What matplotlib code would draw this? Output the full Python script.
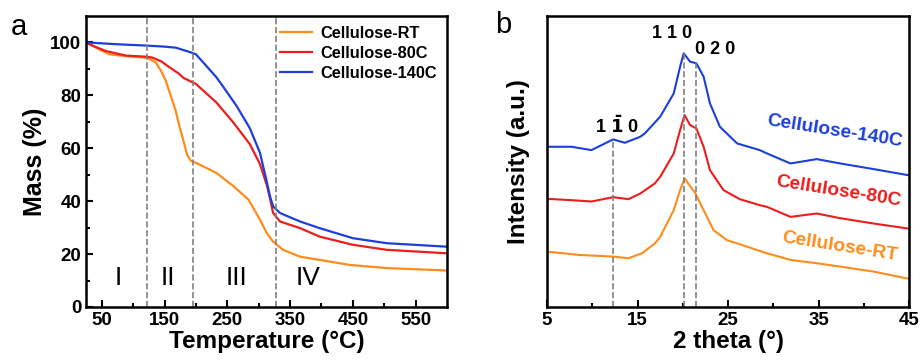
import matplotlib
matplotlib.use("Agg")
import matplotlib.pyplot as plt

# TGA data (temperature in C, mass in %)
t_rt = [25, 41, 62, 89, 120, 127, 136, 145, 152, 159, 168, 174, 180, 186, 192, 201, 233, 260, 284, 302, 313, 323, 339, 366, 397, 445, 504, 599]
m_rt = [100, 98, 95.5, 94.8, 94.2, 93.6, 92.5, 89, 85.5, 80.5, 74, 68, 63, 57.5, 55.2, 54.4, 50.6, 45.6, 40.5, 33, 27.9, 24.7, 21.6, 19, 17.8, 15.9, 14.7, 13.8]
t_80 = [25, 40, 57, 89, 120, 130, 145, 159, 174, 180, 200, 233, 260, 286, 302, 313, 318, 323, 334, 366, 397, 450, 504, 599]
m_80 = [100, 98.3, 96.7, 95, 94.6, 94.3, 92.8, 90.4, 88, 86.6, 84.3, 77.2, 69.6, 61.5, 54, 46, 41, 35.5, 32.3, 29.8, 26.6, 23.5, 21.6, 20.3]
t_140 = [25, 74, 120, 150, 168, 191, 200, 217, 232, 243, 265, 286, 302, 313, 318, 323, 334, 366, 397, 450, 504, 599]
m_140 = [100, 99.3, 98.8, 98.4, 98, 96.3, 95.5, 91, 87, 83.4, 75.9, 67.5, 58.3, 47.2, 41.8, 38, 35.5, 32.3, 29.8, 26, 24.1, 22.8]
stage_lines = [122, 195, 328]
stage_names = ["I", "II", "III", "IV"]
stage_pos = [77, 155, 264, 378]

# XRD data (2 theta, intensity in arbitrary units, offset already included)
x_140 = [5, 7.7, 9.9, 11.4, 12.3, 13.6, 15.3, 15.8, 17.5, 19.0, 19.7, 20.1, 20.8, 21.5, 22.3, 23.0, 24.1, 26.0, 28.5, 29.3, 31.9, 34.8, 37.4, 41.1, 44.9]
i_140 = [48, 48, 47, 49, 50.2, 49.2, 51, 52, 57, 64, 72, 76, 73.5, 73, 69, 61, 54, 49, 47, 46, 43, 44.3, 43, 41.3, 39.5]
x_80 = [5, 7.7, 9.9, 12.3, 14, 15.3, 16.9, 17.5, 19.0, 19.7, 20.2, 20.8, 21.5, 22.3, 23.0, 24.5, 26.3, 28.5, 29.3, 31.9, 34.8, 37.4, 41.1, 44.9]
i_80 = [32.4, 32, 31.6, 32.9, 32.3, 34, 37, 39, 46, 53, 57.5, 54.5, 53.5, 48, 41, 35, 32.3, 30.5, 30, 27, 28, 26.6, 25, 23.5]
x_rt = [5, 8.5, 12.3, 14, 15.5, 16.9, 17.5, 19.0, 19.7, 20.2, 21.4, 22.3, 23.4, 24.9, 26.3, 28.5, 29.3, 31.9, 34.8, 37.4, 41.1, 44.9]
i_rt = [16.6, 15.6, 15.1, 14.6, 16.1, 19, 21, 29, 35, 38.5, 34, 29, 23, 20, 18.8, 16.8, 16.1, 14.1, 13.1, 12.1, 10.6, 8.5]
peak_pos = [12.3, 20.1, 21.5]
peak_top = [50.2, 76, 73]

c_rt = "#ff8c1a"
c_80 = "#ee1c1c"
c_140 = "#1c3fd9"

plt.rcParams["font.family"] = "Liberation Sans"
fig = plt.figure(figsize=(9.21, 3.62), dpi=100)
ax1 = fig.add_axes([0.0934, 0.152, 0.392, 0.804])
ax2 = fig.add_axes([0.594, 0.152, 0.393, 0.804])

# panel a
ax1.plot(t_rt, m_rt, color=c_rt, lw=1.6, label="Cellulose-RT")
ax1.plot(t_80, m_80, color=c_80, lw=1.6, label="Cellulose-80C")
ax1.plot(t_140, m_140, color=c_140, lw=1.6, label="Cellulose-140C")
for x in stage_lines:
    ax1.axvline(x, color="gray", ls="--", lw=1.2)
for name, x in zip(stage_names, stage_pos):
    ax1.text(x, 11, name, ha="center", va="center", fontsize=19)
ax1.set_xlim(25, 600)
ax1.set_ylim(0, 110)
ax1.set_xticks([50, 150, 250, 350, 450, 550])
ax1.set_xticks([100, 200, 300, 400, 500], minor=True)
ax1.set_yticks([0, 20, 40, 60, 80, 100])
ax1.set_yticks([10, 30, 50, 70, 90], minor=True)
ax1.set_xlabel("Temperature (\u00b0C)", fontsize=17.5, fontweight="bold", labelpad=1)
ax1.set_ylabel("Mass (%)", fontsize=18, fontweight="bold", labelpad=2)
leg = ax1.legend(loc="upper right", frameon=False, fontsize=11.8, handlelength=2.0,
                 borderaxespad=0.2, labelspacing=0.3, handletextpad=0.5)
for t in leg.get_texts():
    t.set_fontweight("bold")

# panel b
ax2.plot(x_140, i_140, color=c_140, lw=1.5)
ax2.plot(x_80, i_80, color=c_80, lw=1.5)
ax2.plot(x_rt, i_rt, color=c_rt, lw=1.5)
for x, top in zip(peak_pos, peak_top):
    ax2.plot([x, x], [0, top], color="gray", ls="--", lw=1.2)
ax2.text(18.85, 82, "1 1 0", ha="center", va="center", fontsize=13, fontweight="bold")
ax2.text(23.6, 77, "0 2 0", ha="center", va="center", fontsize=13, fontweight="bold")
ax2.text(12.7, 54.2, r"1 $\mathbf{\bar{1}}$ 0", ha="center", va="center", fontsize=13, fontweight="bold")
ax2.text(36.8, 52.5, "Cellulose-140C", color=c_140, ha="center", va="center", fontsize=13.8,
         fontweight="bold", rotation=-9)
ax2.text(37.2, 34.5, "Cellulose-80C", color=c_80, ha="center", va="center", fontsize=13.8,
         fontweight="bold", rotation=-9)
ax2.text(37.3, 18, "Cellulose-RT", color=c_rt, ha="center", va="center", fontsize=13.8,
         fontweight="bold", rotation=-9)
ax2.set_xlim(5, 45)
ax2.set_ylim(0, 87.2)
ax2.set_xticks([5, 15, 25, 35, 45])
ax2.set_xticks([10, 20, 30, 40], minor=True)
ax2.set_yticks([])
ax2.set_xlabel("2 theta (\u00b0)", fontsize=17.5, fontweight="bold", labelpad=1)
ax2.set_ylabel("Intensity (a.u.)", fontsize=17.5, fontweight="bold", labelpad=12)

for ax in (ax1, ax2):
    for s in ax.spines.values():
        s.set_linewidth(1.8)
    ax.tick_params(which="both", direction="in", width=1.5, labelsize=13.5)
    ax.tick_params(which="major", length=5)
    ax.tick_params(which="minor", length=3)
    for lab in ax.get_xticklabels() + ax.get_yticklabels():
        lab.set_fontweight("bold")

fig.text(0.02, 0.925, "a", fontsize=21, ha="center", va="center")
fig.text(0.546, 0.93, "b", fontsize=21, ha="center", va="center")

fig.savefig("out.png", dpi=100)
